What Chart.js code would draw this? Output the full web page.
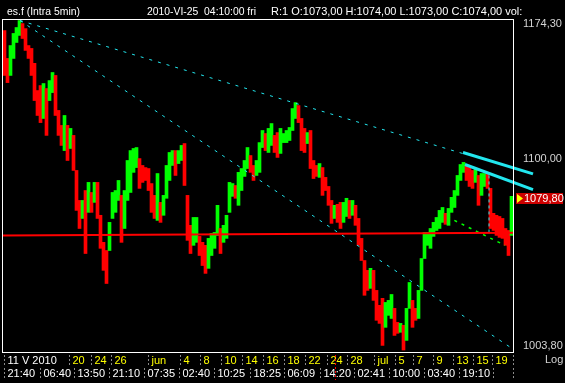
<!DOCTYPE html>
<html>
<head>
<meta charset="utf-8">
<script src="https://cdn.jsdelivr.net/npm/chart.js@4.4.0/dist/chart.umd.min.js"></script>
<style>
  html, body { margin: 0; padding: 0; background: #000; }
  canvas { display: block; }
</style>
</head>
<body>
<canvas id="chart" width="565" height="383"></canvas>
<script>
// es.f intraday, 11 May - 19 Jul 2010, grouped into 170 slots (high / low of each slot)
const highs = [
  1168.7, 1153.3, 1160.4, 1167.1, 1170.4, 1174.3, 1172.6, 1169.8, 1160.4, 1158.8,
  1150.6, 1135.8, 1138.5, 1139.6, 1136.9, 1141.2, 1145.6, 1144.0, 1125.1, 1117.1,
  1122.4, 1117.1, 1115.5, 1111.8, 1093.4, 1077.9, 1077.9, 1083.0, 1087.2, 1082.0,
  1087.2, 1087.2, 1070.3, 1056.6, 1052.5, 1066.7, 1082.0, 1083.0, 1088.2, 1080.5,
  1083.0, 1098.6, 1103.8, 1104.9, 1105.4, 1099.6, 1096.0, 1094.9, 1094.4, 1086.6,
  1080.5, 1091.8, 1076.9, 1080.5, 1096.0, 1102.8, 1103.8, 1103.8, 1103.8, 1106.5,
  1107.5, 1080.5, 1065.2, 1069.2, 1069.2, 1059.6, 1056.6, 1055.1, 1058.6, 1061.1,
  1061.6, 1075.4, 1063.6, 1065.2, 1070.3, 1087.2, 1086.6, 1085.6, 1092.4, 1094.4,
  1098.6, 1105.4, 1101.2, 1096.0, 1098.6, 1108.0, 1114.4, 1112.8, 1115.5, 1118.1,
  1111.8, 1113.3, 1115.5, 1112.8, 1114.4, 1116.0, 1126.1, 1129.3, 1127.7, 1120.8,
  1115.5, 1113.3, 1114.4, 1098.6, 1096.0, 1097.0, 1094.9, 1089.8, 1085.1, 1077.9,
  1075.4, 1075.9, 1076.9, 1076.9, 1079.0, 1077.9, 1077.9, 1075.4, 1068.7, 1058.6,
  1047.5, 1042.6, 1043.6, 1042.6, 1032.7, 1025.4, 1028.8, 1026.8, 1027.8, 1030.7,
  1023.9, 1017.1, 1016.6, 1015.7, 1023.9, 1036.6, 1027.8, 1023.9, 1032.7, 1048.5,
  1061.6, 1061.6, 1063.6, 1066.7, 1069.2, 1072.8, 1074.3, 1071.3, 1073.8, 1079.5,
  1083.0, 1090.8, 1096.5, 1097.6, 1096.0, 1094.9, 1093.4, 1094.4, 1090.8, 1091.8,
  1091.8, 1091.3, 1084.1, 1071.3, 1070.3, 1069.7, 1068.7, 1063.6, 1062.6, 1080.0
];
const lows = [
  1144.0, 1140.1, 1144.0, 1153.3, 1162.1, 1166.0, 1164.3, 1157.7, 1153.3, 1144.0,
  1130.4, 1122.4, 1118.6, 1120.8, 1111.8, 1130.4, 1134.7, 1122.4, 1111.8, 1106.5,
  1103.8, 1098.6, 1104.9, 1093.4, 1072.8, 1063.6, 1068.7, 1051.0, 1071.8, 1071.8,
  1076.9, 1068.7, 1053.6, 1042.6, 1036.1, 1052.5, 1068.7, 1071.8, 1077.9, 1056.6,
  1063.6, 1077.9, 1082.0, 1092.4, 1094.9, 1084.1, 1087.2, 1088.2, 1083.0, 1071.8,
  1068.7, 1067.7, 1066.7, 1070.3, 1079.0, 1088.2, 1096.0, 1090.8, 1097.0, 1098.6,
  1085.6, 1057.6, 1051.0, 1055.1, 1056.6, 1050.0, 1045.0, 1041.1, 1043.6, 1050.0,
  1053.6, 1060.1, 1051.0, 1056.6, 1058.6, 1071.8, 1080.0, 1079.0, 1075.4, 1083.0,
  1090.3, 1094.4, 1092.4, 1088.2, 1090.8, 1092.4, 1105.4, 1103.8, 1102.8, 1106.5,
  1102.8, 1100.2, 1102.3, 1108.0, 1108.0, 1109.1, 1114.4, 1120.8, 1118.6, 1103.8,
  1102.8, 1107.5, 1094.4, 1089.2, 1090.3, 1089.8, 1080.5, 1083.0, 1075.4, 1066.2,
  1068.7, 1066.7, 1063.6, 1066.7, 1069.7, 1068.7, 1070.3, 1065.2, 1055.1, 1047.5,
  1030.3, 1032.7, 1033.7, 1027.8, 1018.1, 1016.6, 1006.0, 1014.7, 1020.5, 1019.0,
  1010.8, 1011.8, 1012.3, 1003.8, 1008.4, 1023.9, 1014.7, 1018.1, 1019.0, 1032.7,
  1048.5, 1055.1, 1053.6, 1059.6, 1062.6, 1063.6, 1066.7, 1065.7, 1065.2, 1071.8,
  1074.3, 1080.5, 1088.2, 1092.4, 1088.2, 1085.1, 1084.1, 1087.2, 1075.4, 1080.5,
  1085.1, 1084.1, 1063.6, 1062.6, 1060.1, 1059.1, 1058.6, 1055.1, 1050.0, 1060.1
];
const lastClose = 1079.80;

const priceTicks = [1174.30, 1100.00, 1003.80];

// bottom axis, in slot units
const dateTickPos = [0.33, 22, 29.33, 36, 48.33, 59, 65.67, 72.67, 79.67, 86.67, 93.67,
  100.67, 108, 114.67, 123.67, 130.67, 136.67, 143.33, 150, 156.67, 163, 170];
const dateTickLabels = ['11 V 2010', '20', '24', '26', 'jun', '4', '8', '10', '14', '16', '18',
  '22', '24', '28', 'jul', '5', '7', '9', '13', '15', '19', ''];
const timeTickPos = [0.33, 12.33, 23.67, 35.33, 47, 58.67, 70.33, 82.33, 93.67, 105.67,
  117, 128.67, 140.33, 152, 163.33, 170];
const timeTickLabels = ['21:40', '06:40', '13:50', '21:10', '07:35', '02:40', '10:25', '18:25',
  '06:09', '14:20', '02:41', '10:00', '03:40', '19:10', '', ''];
const cursorPos = 110.67;

// drawn lines: [slot, price] end points
const resistLine = [[5.67, 1174.3], [153.33, 1102.2]];
const supportLine = [[5.67, 1174.3], [169, 1005.2]];
const channelTop = [[153.33, 1102.8], [176.67, 1091.6]];
const channelBottom = [[154, 1096.5], [176.67, 1083.5]];
const levelLine = [[0, 1060.1], [170, 1061.4]];
const greenLine = [[145.67, 1071.3], [167.33, 1055.1]];
const dropLine = [[162, 1090.8], [162, 1061.6]];

const FONT = '11px "Liberation Sans", Arial, sans-serif';
const GREEN = '#00ff00';
const RED = '#ff0000';
const CYAN = '#22e6ee';

const bars = highs.map((h, i) => ({ x: i + 0.5, y: [lows[i], h] }));
const barColors = highs.map((h, i) => {
  if (i === 0) return RED;
  const mid = (h + lows[i]) / 2;
  const prev = (highs[i - 1] + lows[i - 1]) / 2;
  return mid >= prev ? GREEN : RED;
});

function pts(arr) {
  return arr.map(p => ({ x: p[0], y: p[1] }));
}

function lineSet(arr, color, width, dash, clip) {
  return {
    type: 'line',
    data: pts(arr),
    borderColor: color,
    borderWidth: width,
    borderDash: dash,
    pointRadius: 0,
    fill: false,
    tension: 0,
    clip: clip,
    order: 1
  };
}

const frame = {
  id: 'frame',
  beforeDraw(chart) {
    const ctx = chart.ctx;
    ctx.save();
    ctx.fillStyle = '#000';
    ctx.fillRect(0, 0, chart.width, chart.height);
    ctx.restore();
  },
  afterDraw(chart) {
    const { ctx, chartArea: a } = chart;
    const xs = chart.scales.x;
    const ys = chart.scales.y;
    ctx.save();

    // plot border
    ctx.strokeStyle = '#ffffff';
    ctx.lineWidth = 1;
    ctx.strokeRect(a.left - 0.5, a.top - 0.5, a.right - a.left + 1, a.bottom - a.top + 1);

    // header
    ctx.font = FONT;
    ctx.fillStyle = '#ffffff';
    ctx.textBaseline = 'alphabetic';
    ctx.textAlign = 'left';
    ctx.fillText('es.f (Intra 5min)', 7, 15, 73);
    ctx.fillText('2010-VI-25  04:10:00 fri', 147, 15, 109);
    ctx.fillText('R:1 O:1073,00 H:1074,00 L:1073,00 C:1074,00 vol:', 271, 15, 259);

    // bottom separators and labels
    ctx.setLineDash([2, 2]);
    ctx.strokeStyle = '#8a8a8a';
    dateTickPos.forEach((p, i) => {
      const px = Math.round(xs.getPixelForValue(p)) + 0.5;
      ctx.beginPath();
      ctx.moveTo(px, 355);
      ctx.lineTo(px, 366);
      ctx.stroke();
      ctx.fillStyle = i === 0 ? '#ffffff' : '#ffff00';
      ctx.fillText(dateTickLabels[i], px + 3, 364);
    });
    timeTickPos.forEach((p, i) => {
      const px = Math.round(xs.getPixelForValue(p)) + 0.5;
      ctx.beginPath();
      ctx.moveTo(px, 368);
      ctx.lineTo(px, 380);
      ctx.stroke();
      ctx.fillStyle = '#ffffff';
      ctx.fillText(timeTickLabels[i], px + 3, 377);
    });
    const cx = Math.round(xs.getPixelForValue(cursorPos)) + 0.5;
    ctx.strokeStyle = RED;
    ctx.beginPath();
    ctx.moveTo(cx, 355);
    ctx.lineTo(cx, 380);
    ctx.stroke();
    ctx.setLineDash([]);

    // right price labels
    ctx.fillStyle = '#d4d4d4';
    ctx.textBaseline = 'middle';
    priceTicks.forEach(v => {
      let py = ys.getPixelForValue(v) + 1.5;
      py = Math.max(a.top + 4, Math.min(a.bottom - 6, py));
      ctx.fillText(v.toFixed(2).replace('.', ','), 523, py);
    });
    ctx.fillText('Log', 545, 360);

    // last price box
    const ly = Math.round(ys.getPixelForValue(lastClose)) + 1;
    ctx.fillStyle = '#cc0000';
    ctx.fillRect(516, ly - 5, 47, 11);
    ctx.fillStyle = '#ffff00';
    ctx.beginPath();
    ctx.moveTo(517, ly - 4);
    ctx.lineTo(523, ly + 0.5);
    ctx.lineTo(517, ly + 5);
    ctx.closePath();
    ctx.fill();
    ctx.fillStyle = '#ffffff';
    ctx.fillText(lastClose.toFixed(2).replace('.', ','), 524, ly + 1);

    ctx.restore();
  }
};

new Chart(document.getElementById('chart'), {
  type: 'bar',
  data: {
    datasets: [
      {
        type: 'bar',
        data: bars,
        backgroundColor: barColors,
        borderWidth: 0,
        barPercentage: 1,
        categoryPercentage: 1,
        order: 2
      },
      lineSet(levelLine, RED, 2, [], true),
      lineSet(resistLine, CYAN, 1, [3, 6], true),
      lineSet(supportLine, CYAN, 1, [3, 6], true),
      lineSet(greenLine, GREEN, 1.5, [3, 5], true),
      lineSet(dropLine, CYAN, 1, [3, 3], true),
      lineSet(channelTop, CYAN, 3, [], false),
      lineSet(channelBottom, CYAN, 3, [], false)
    ]
  },
  options: {
    responsive: false,
    animation: false,
    devicePixelRatio: 1,
    layout: { padding: { left: 3, right: 52, top: 20, bottom: 31 } },
    plugins: { legend: { display: false }, tooltip: { enabled: false } },
    scales: {
      x: { type: 'linear', min: 0, max: 170, offset: false, display: false },
      y: { type: 'logarithmic', min: 1002.85, max: 1174.6, display: false }
    }
  },
  plugins: [frame]
});
</script>
</body>
</html>
